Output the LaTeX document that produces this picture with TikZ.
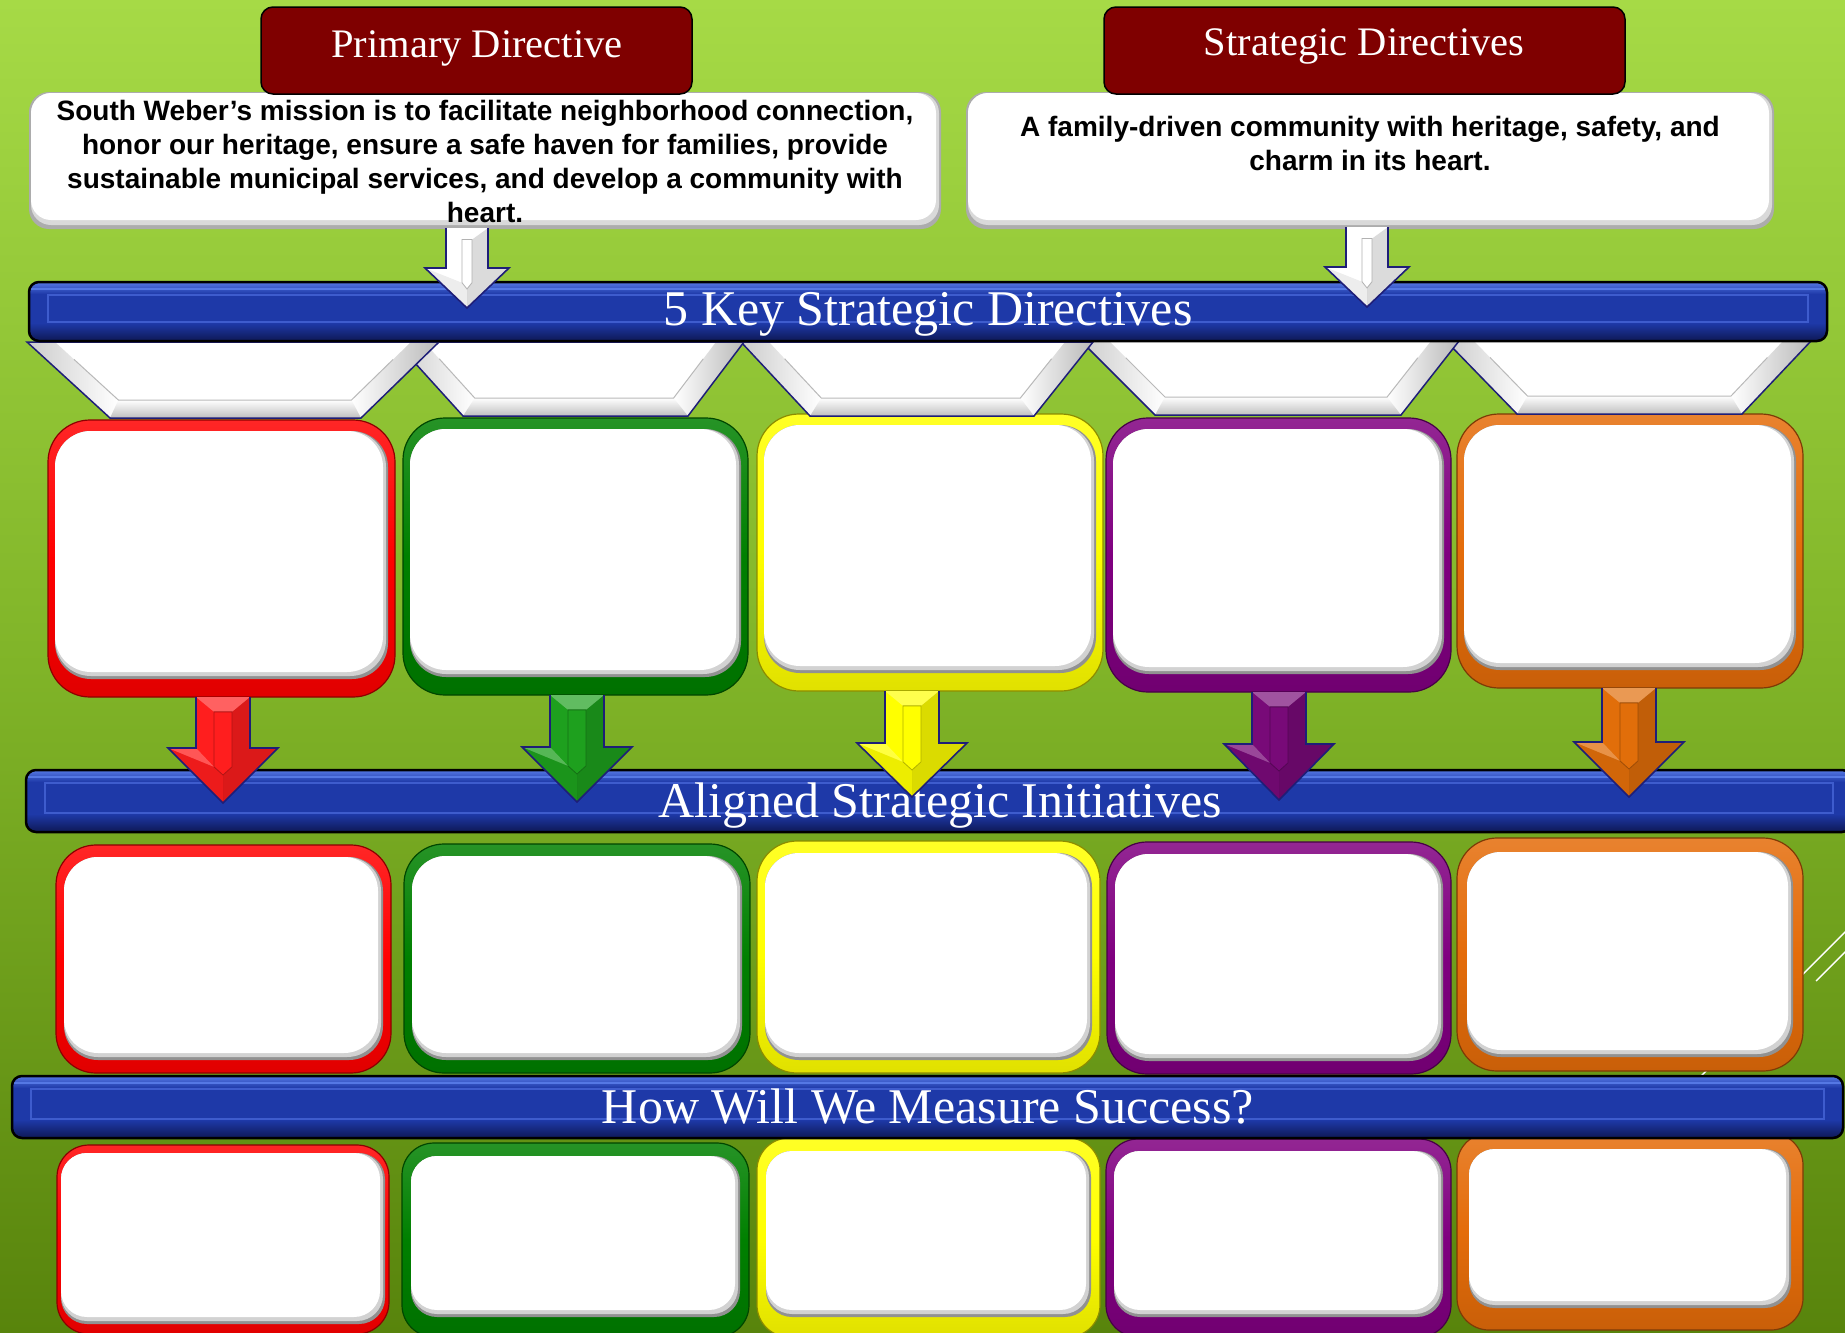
\documentclass[tikz,border=0pt]{standalone}
\usepackage{fontspec}
\setmainfont{Liberation Serif}
\newfontfamily\arialfont{Liberation Sans}
\usetikzlibrary{calc}

\definecolor{bgtop}{RGB}{166,218,70}
\definecolor{bgmid}{RGB}{128,180,40}
\definecolor{bgbot}{RGB}{88,132,12}
\definecolor{hdrred}{RGB}{127,0,0}
\definecolor{outlnavy}{RGB}{30,30,120}
\definecolor{barblue}{RGB}{30,57,168}
\definecolor{barhi}{RGB}{85,120,228}
\definecolor{bardark}{RGB}{14,24,85}
\definecolor{barline}{RGB}{62,92,205}
\definecolor{boxred}{RGB}{255,0,0}
\definecolor{boxgreen}{RGB}{0,128,0}
\definecolor{boxyellow}{RGB}{255,255,0}
\definecolor{boxpurple}{RGB}{128,0,128}
\definecolor{boxorange}{RGB}{228,108,10}
\definecolor{arrred}{RGB}{255,30,30}
\definecolor{arrgreen}{RGB}{30,160,30}
\definecolor{arryellow}{RGB}{255,255,0}
\definecolor{arrpurple}{RGB}{120,10,120}
\definecolor{arrorange}{RGB}{225,110,10}
\definecolor{shadowgray}{RGB}{145,145,145}

\tikzset{
  cfout/.style={anchor=north west, inner sep=0pt, outer sep=0pt, line width=1.2pt, shape=rectangle},
  cfin/.style={anchor=north west, inner sep=0pt, outer sep=0pt, draw=none, shape=rectangle},
  barframe/.style={anchor=north west, inner sep=0pt, outer sep=0pt, draw=black, line width=2.5pt, rounded corners=10pt, fill=none},
  hdrbox/.style={anchor=north west, inner sep=0pt, outer sep=0pt, draw=black, line width=1.5pt, fill=hdrred, rounded corners=12pt},
  hdrtext/.style={anchor=base, inner sep=0pt, text=white, font=\fontsize{40.5}{48}\selectfont},
  bartext/.style={anchor=base, inner sep=0pt, text=white, font=\fontsize{50}{60}\selectfont},
  msgtext/.style={anchor=north, inner sep=0pt, align=center, text=black, font=\arialfont\bfseries\fontsize{28}{34}\selectfont},
  wbase/.style={anchor=north west, inner sep=0pt, outer sep=0pt, draw=none, rounded corners=20pt},
}

% coloured frame: name, x1, y1, x2, y2, colour, radius, side inset, bottom inset
\newcommand{\cframe}[9]{%
  \pgfmathsetmacro\cfW{#4-#2}%
  \pgfmathsetmacro\cfH{#5-#3}%
  \pgfmathsetmacro\cfIW{#4-#2-2*#8}%
  \pgfmathsetmacro\cfIH{#5-#3-#8-4-#9}%
  \pgfmathsetmacro\cfR{#7-6}%
  \node[cfout, top color=#6!85!white, bottom color=#6!88!black, middle color=#6, draw=#6!55!black, rounded corners=#7, minimum width=\cfW, minimum height=\cfH] (#1) at (#2,#3) {};
  \node[cfin, fill=shadowgray, rounded corners=\cfR, minimum width=\cfIW, minimum height=\cfIH] (#1-s1) at (#2+#8,#3+#8+4) {};
  \node[cfin, fill=gray!35, rounded corners=\cfR, minimum width=\cfIW-2, minimum height=\cfIH-3] (#1-s2) at (#2+#8,#3+#8+4) {};
  \node[cfin, fill=white, rounded corners=\cfR, minimum width=\cfIW-5, minimum height=\cfIH-7] (#1-in) at (#2+#8,#3+#8+4) {};
}

% blue bar: name, x1, y1, x2, y2
\newcommand{\bluebar}[5]{%
  \pgfmathsetmacro\bbW{#4-#2}\pgfmathsetmacro\bbH{#5-#3}%
  \begin{scope}
    \clip[rounded corners=10] (#2,#3) rectangle (#4,#5);
    \fill[barblue] (#2,#3) rectangle (#4,#5);
    \shade[top color=barblue, bottom color=bardark] (#2,#5-18) rectangle (#4,#5);
    \shade[top color=barhi, bottom color=barblue] (#2,#3) rectangle (#4,#3+12);
    \draw[barhi, line width=1.5] (#2,#3+7) -- (#4,#3+7);
  \end{scope}
  \draw[barline, line width=1.2] (#2+19,#3+13) rectangle (#4-19,#5-19);
  \node[barframe, minimum width=\bbW, minimum height=\bbH] (#1) at (#2,#3) {};
}

% block arrow: cx, shaft top, head base, tip, shaft half, head half, fill, inner line colour, inner half
\newcommand{\blockarrow}[9]{%
  \pgfmathsetmacro\baL{#1-#5}\pgfmathsetmacro\baR{#1+#5}%
  \pgfmathsetmacro\baHL{#1-#6}\pgfmathsetmacro\baHR{#1+#6}%
  \pgfmathsetmacro\baIL{#1-#9}\pgfmathsetmacro\baIR{#1+#9}%
  \pgfmathsetmacro\baC{#2+0.55*#5}%
  \pgfmathsetmacro\baIH{#3+0.7*#5}%
  \pgfmathsetmacro\baIT{#3+#5}%
  \fill[#7] (\baL,#2) -- (\baR,#2) -- (\baR,#3) -- (\baHR,#3) -- (#1,#4) -- (\baHL,#3) -- (\baL,#3) -- cycle;
  \fill[black, opacity=0.14] (\baIR,\baC) -- (\baR,#2) -- (\baR,#3) -- (\baHR,#3) -- (#1,#4) -- (#1,\baIT) -- (\baIR,\baIH) -- cycle;
  \fill[black, opacity=0.07] (\baHL,#3) -- (#1,#4) -- (#1,\baIT) -- (\baIL,\baIH) -- cycle;
  \fill[white, opacity=0.3] (\baL,#2) -- (\baR,#2) -- (\baIR,\baC) -- (\baIL,\baC) -- cycle;
  \fill[white, opacity=0.25] (\baHL,#3) -- (\baL,#3) -- (\baIL,\baIH) -- cycle;
  \draw[#8, line width=0.8] (\baIL,\baC) -- (\baIL,\baIH) -- (#1,\baIT) -- (\baIR,\baIH) -- (\baIR,\baC) -- cycle;
  \draw[outlnavy, line width=1.6, line join=miter] (\baR,#2) -- (\baR,#3) -- (\baHR,#3) -- (#1,#4) -- (\baHL,#3) -- (\baL,#3) -- (\baL,#2);
}

% trapezoid: top-left x, top-right x, bottom-left x, bottom-right x, top y, bottom y
\newcommand{\trapz}[6]{%
  \pgfmathsetmacro\tzH{#6-#5}%
  \pgfmathsetmacro\tzIY{#6-18}%
  \pgfmathsetmacro\tzLT{#1+28}%
  \pgfmathsetmacro\tzLB{#3-(#3-#1)*18/\tzH+28}%
  \pgfmathsetmacro\tzRT{#2-28}%
  \pgfmathsetmacro\tzRB{#4+(#2-#4)*18/\tzH-28}%
  \fill[white] (#1,#5) -- (#2,#5) -- (#4,#6) -- (#3,#6) -- cycle;
  \shade[left color=gray!40, right color=white] (#1,#5) -- (\tzLT,#5) -- (\tzLB,\tzIY) -- (#3,#6) -- cycle;
  \shade[left color=white, right color=gray!55] (\tzRT,#5) -- (#2,#5) -- (#4,#6) -- (\tzRB,\tzIY) -- cycle;
  \shade[top color=white, bottom color=gray!50] (\tzLB,\tzIY) -- (\tzRB,\tzIY) -- (#4,#6) -- (#3,#6) -- cycle;
  \draw[gray!55, line width=1] ($(\tzLT,#5)!0.3!(\tzLB,\tzIY)$) -- (\tzLB,\tzIY) -- (\tzRB,\tzIY) -- ($(\tzRT,#5)!0.3!(\tzRB,\tzIY)$);
  \draw[outlnavy, line width=1.5, line join=miter] (#1,#5) -- (#3,#6) -- (#4,#6) -- (#2,#5) -- cycle;
}

\begin{document}
\begin{tikzpicture}[x=1pt, y=-1pt]
\useasboundingbox (0,0) rectangle (1845,1333);
\shade[top color=bgtop, bottom color=bgbot, middle color=bgmid] (0,0) rectangle (1845,1333);

% decorative theme lines
\coordinate (dl1a) at (1850,927);
\coordinate (dl1b) at (1680,1097);
\coordinate (dl2a) at (1850,947);
\coordinate (dl2b) at (1816,981);
\draw[white, line width=1.4] (dl1a) -- (dl1b);
\draw[white, line width=1.4] (dl2a) -- (dl2b);

% top white boxes
\node[wbase, fill=gray!65, minimum width=912, minimum height=137] (mbox) at (29,92) {};
\node[wbase, fill=gray!30, minimum width=908, minimum height=132] (mbox-s) at (31,93) {};
\node[wbase, fill=white, minimum width=905, minimum height=127] (mbox-w) at (31,93) {};
\node[wbase, fill=gray!65, minimum width=808, minimum height=137] (vbox) at (966,92) {};
\node[wbase, fill=gray!30, minimum width=804, minimum height=132] (vbox-s) at (968,93) {};
\node[wbase, fill=white, minimum width=801, minimum height=127] (vbox-w) at (968,93) {};

% dark red headers
\node[hdrbox, minimum width=431, minimum height=87] (pdbox) at (261,7) {};
\node[hdrtext] (pdtext) at (477,57) {Primary Directive};
\node[hdrbox, minimum width=521, minimum height=87] (sdbox) at (1104,7) {};
\node[hdrtext] (sdtext) at (1364,55) {Strategic Directives};

\node[msgtext] (mtext) at (485,100.5) {South Weber’s mission is to facilitate neighborhood connection,\\honor our heritage, ensure a safe haven for families, provide\\sustainable municipal services, and develop a community with\\heart.};
\node[msgtext] (vtext) at (1370,116.5) {A family-driven community with heritage, safety, and\\charm in its heart.};

% row 1 frames
\cframe{r1a}{48}{420}{395}{697}{boxred}{42}{7}{18}
\cframe{r1b}{403}{418}{748}{695}{boxgreen}{42}{7}{18}
\cframe{r1c}{757}{414}{1103}{691}{boxyellow}{42}{7}{18}
\cframe{r1d}{1106}{418}{1451}{692}{boxpurple}{42}{7}{18}
\cframe{r1e}{1457}{414}{1803}{688}{boxorange}{42}{7}{18}

% trapezoids
\trapz{1446}{1811}{1517}{1742}{341}{414}
\trapz{1081}{1459}{1155}{1401}{341}{415}
\trapz{741}{1093}{810}{1034}{342}{416}
\trapz{396}{744}{463}{688}{342}{416}
\trapz{27}{439}{110}{361}{342}{418}

% bar 1
\bluebar{bar1}{29}{282}{1827}{341}
\node[bartext] (bar1t) at (928,325) {5 Key Strategic Directives};

% white arrows
\blockarrow{467}{228}{268}{308}{21}{42}{white}{gray!60}{5}
\blockarrow{1367}{227}{267}{307}{21}{42}{white}{gray!60}{5}

% bar 2
\bluebar{bar2}{26}{770}{1852}{832}
\node[bartext] (bar2t) at (940,817) {Aligned Strategic Initiatives};

% coloured arrows
\blockarrow{223}{697}{748}{803}{27}{55}{arrred}{arrred!70!black}{9}
\blockarrow{577}{695}{747}{802}{27}{55}{arrgreen}{arrgreen!70!black}{9}
\blockarrow{912}{691}{743}{797}{27}{55}{arryellow}{arryellow!70!black}{9}
\blockarrow{1279}{692}{744}{800}{27}{55}{arrpurple}{arrpurple!70!black}{9}
\blockarrow{1629}{688}{742}{797}{27}{55}{arrorange}{arrorange!70!black}{9}

% row 2 frames
\cframe{r2a}{56}{845}{391}{1073}{boxred}{40}{8}{13}
\cframe{r2b}{404}{844}{750}{1073}{boxgreen}{40}{8}{13}
\cframe{r2c}{757}{841}{1100}{1073}{boxyellow}{40}{8}{13}
\cframe{r2d}{1107}{842}{1451}{1074}{boxpurple}{40}{8}{13}
\cframe{r2e}{1457}{838}{1803}{1071}{boxorange}{40}{10}{14}

% row 3 frames
\cframe{r3a}{57}{1145}{389}{1334}{boxred}{32}{4}{10}
\cframe{r3b}{402}{1143}{749}{1337}{boxgreen}{32}{9}{20}
\cframe{r3c}{757}{1138}{1100}{1337}{boxyellow}{32}{9}{20}
\cframe{r3d}{1106}{1139}{1451}{1337}{boxpurple}{32}{8}{20}
\cframe{r3e}{1457}{1133}{1803}{1330}{boxorange}{32}{12}{22}

% bar 3
\bluebar{bar3}{12}{1076}{1843}{1138}
\node[bartext] (bar3t) at (928,1123) {How Will We Measure Success?};
\end{tikzpicture}
\end{document}
